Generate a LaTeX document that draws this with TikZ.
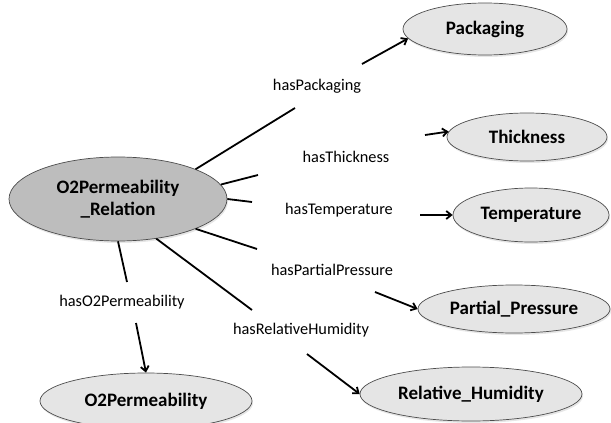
\documentclass[tikz,border=0pt]{standalone}
\usepackage{fontspec}
\setmainfont{Carlito}
\usetikzlibrary{arrows.meta}
\usetikzlibrary{shapes.geometric, shadows}

\begin{document}
\begin{tikzpicture}[x=1pt, y=-1pt,
  concept/.style={ellipse, draw=black!70, line width=0.7pt, fill=black!10, inner sep=0pt,
    font=\fontsize{19}{22.5}\selectfont\bfseries,
    drop shadow={shadow xshift=1pt, shadow yshift=-2pt, opacity=0.2}},
  relation/.style={font=\fontsize{16.3}{19}\selectfont, inner sep=1pt},
  link/.style={line width=1.8pt},
  linkarrow/.style={line width=1.8pt, -{Straight Barb[length=5pt, width=8pt]}}]
\useasboundingbox (0,0) rectangle (611,423);
% gap ends of the links
\coordinate (packA) at (295,108);
\coordinate (packB) at (362,64);
\coordinate (thickA) at (258,175);
\coordinate (thickB) at (425,135);
\coordinate (tempA) at (252,202);
\coordinate (tempB) at (420,215);
\coordinate (ppA) at (257,249);
\coordinate (ppB) at (375,292);
\coordinate (rhA) at (252,310);
\coordinate (rhB) at (307,354);
\coordinate (o2A) at (127,282);
\coordinate (o2B) at (136,323);
% classes
\node[concept, fill=black!26, minimum width=218pt, minimum height=84pt, align=center] (rel) at (118,199) {O2Permeability\\\_Relation};
\node[concept, minimum width=164pt, minimum height=52pt] (pack) at (485,29) {Packaging};
\node[concept, minimum width=160pt, minimum height=48pt] (thick) at (527,137) {Thickness};
\node[concept, minimum width=156pt, minimum height=54pt] (temp) at (531,215) {Temperature};
\node[concept, minimum width=192pt, minimum height=48pt] (pp) at (514,309) {Partial\_Pressure};
\node[concept, minimum width=222pt, minimum height=54pt] (rh) at (471,394) {Relative\_Humidity};
\node[concept, minimum width=212pt, minimum height=56pt] (o2) at (146,401) {O2Permeability};
% properties
\node[relation] (hPack) at (317,86) {hasPackaging};
\node[relation] (hThick) at (346,157) {hasThickness};
\node[relation] (hTemp) at (339,210) {hasTemperature};
\node[relation] (hPP) at (332,270) {hasPartialPressure};
\node[relation] (hRH) at (301,330) {hasRelativeHumidity};
\node[relation] (hO2) at (122,302) {hasO2Permeability};
% links
\draw[link] (rel.21) -- (packA);
\draw[linkarrow] (packB) -- (pack.187);
\draw[link] (rel.8) -- (thickA);
\draw[linkarrow] (thickB) -- (thick.176);
\draw[link] (rel.east) -- (tempA);
\draw[linkarrow] (tempB) -- (temp.west);
\draw[link] (rel.-21) -- (ppA);
\draw[linkarrow] (ppB) -- (pp.west);
\draw[link] (rel.-46) -- (rhA);
\draw[linkarrow] (rhB) -- (rh.west);
\draw[link] (rel.south) -- (o2A);
\draw[linkarrow] (o2B) -- (o2.north);
\end{tikzpicture}
\end{document}
